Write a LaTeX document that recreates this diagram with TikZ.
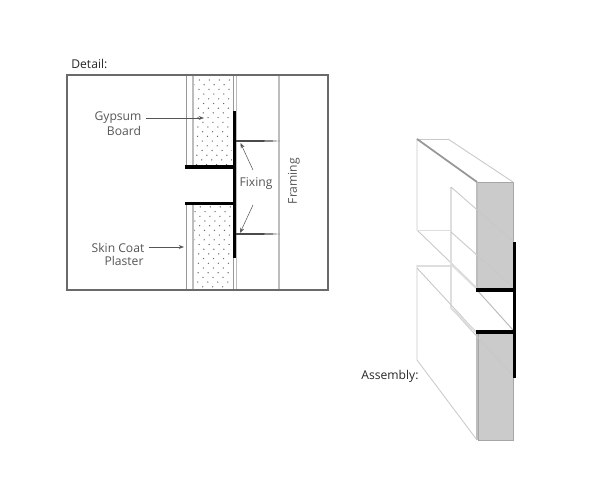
\documentclass[tikz,border=0pt]{standalone}
\usepackage{xcolor}
\usepackage{fontspec}
\setmainfont{Open Sans}
\usetikzlibrary{arrows.meta}
\definecolor{labelgray}{HTML}{555555}
\definecolor{boxgray}{HTML}{6A6A6A}
\definecolor{wallgray}{HTML}{BDBDBD}
\definecolor{edgegray}{HTML}{C8C8C8}
\definecolor{facegray}{HTML}{CBCBCB}
\tikzset{
    labeltext/.style={text=labelgray,font=\fontsize{6.9}{8}\selectfont,inner sep=0pt},
    titletext/.style={text=black!85,font=\fontsize{6.9}{8}\selectfont,inner sep=0pt},
    pointer/.style={draw=labelgray,line width=0.3pt,-{Stealth[length=3pt,width=2.2pt]}},
    trim/.style={line width=2.2pt,black},
    thintrim/.style={line width=1.9pt,black},
    thinwall/.style={line width=0.5pt,draw=boxgray!70},
    thickwall/.style={line width=1.1pt,draw=wallgray},
    isoline/.style={line width=0.5pt,draw=edgegray},
    hiddenline/.style={line width=1.1pt,draw=edgegray!60},
}
\begin{document}
\begin{tikzpicture}[x=0.02cm,y=-0.02cm]
    \useasboundingbox (0,0) rectangle (600,500);

    % Detail
    \node[titletext,anchor=west] (detailtitle) at (71,64) {Detail:};

    % Gypsum dots
    \begin{scope}
        \clip (194.5,76) rectangle (232,165) (194.5,206) rectangle (232,289);
        \foreach \r in {0,...,44} {
            \foreach \c in {-1,...,4} {
                \fill[boxgray] ({199.3+\c*10+5*mod(\r,2)-\r*0.15},{80+\r*4.7}) circle (0.42pt);
            }
        }
    \end{scope}

    % Walls
    \draw[thinwall] (186,76) -- (186,167);
    \draw[thinwall] (186,203) -- (186,289);
    \draw[thickwall] (193,76) -- (193,167);
    \draw[thickwall] (193,203) -- (193,289);
    \draw[thinwall] (233,76) -- (233,167);
    \draw[thinwall] (233,203) -- (233,289);
    \draw[thickwall] (236.5,76) -- (236.5,289);
    \draw[thickwall] (279,76) -- (279,289);

    % Fixings
    \fill[boxgray!70!black] (236,140) -- (270,140.3) -- (280,141) -- (270,141.7) -- (236,142) -- cycle;
    \fill[boxgray!70!black] (236,233) -- (270,233.3) -- (280,234) -- (270,234.7) -- (236,235) -- cycle;

    % Trim
    \draw[trim] (234.5,111) -- (234.5,258);
    \draw[trim] (185,167) -- (236,167);
    \draw[trim] (185,203.5) -- (236,203.5);

    % Frame
    \draw[boxgray,line width=1.1pt] (67,75) rectangle (328,290);

    % Labels
    \node[labeltext] (gypsum) at (118,118) {Gypsum};
    \node[labeltext] (board) at (124,131) {Board};
    \node[labeltext] (skincoat) at (118,248) {Skin Coat};
    \node[labeltext] (plaster) at (124,261) {Plaster};
    \node[labeltext] (fixing) at (256,184) {Fixing};
    \node[labeltext,rotate=90] (framing) at (294,181) {Framing};
    \coordinate (gypsumtip) at (204,118);
    \coordinate (skintip) at (184,247);
    \coordinate (uppertip) at (240.5,143);
    \coordinate (lowertip) at (240,233);
    \coordinate (upperstart) at (253,170);
    \coordinate (lowerstart) at (253,205);
    \draw[pointer] (gypsum.east |- gypsumtip) ++(4,0) -- (gypsumtip);
    \draw[pointer] (skincoat.east |- skintip) ++(4,0) -- (skintip);
    \draw[pointer] (upperstart) -- (uppertip);
    \draw[pointer] (lowerstart) -- (lowertip);

    % Assembly, gray end faces
    \fill[facegray] (478,182) rectangle (513,288);
    \fill[facegray] (478,333) rectangle (513,440);
    \draw[thickwall,line width=0.9pt] (477,182) -- (477,288);
    \draw[thickwall,line width=0.9pt] (477,333) -- (477,440);
    \draw[isoline,draw=boxgray!60] (478,182) -- (513,182) -- (513,288);
    \draw[isoline,draw=boxgray!60] (513,333) -- (513,440) -- (478,440) -- (478,333);

    % Upper board
    \draw[isoline] (448,139) -- (513,182);
    \draw[isoline] (417,139) -- (448,139);
    \draw[isoline] (417,139) -- (417,230) -- (477,288);
    \draw[line width=1pt,draw=boxgray!70] (417,139) -- (477,182);
    \draw[hiddenline] (417,230.5) -- (451,230.5);
    \draw[hiddenline] (451,187) -- (451,308);
    \draw[isoline] (451,187) -- (514,242);
    \draw[isoline] (451,232) -- (513,287);
    \draw[isoline,draw=boxgray!50] (477,290) -- (513,330);

    % Lower board
    \draw[isoline] (417,265) -- (417,360) -- (477,440);
    \draw[hiddenline] (417,266) -- (451,266);
    \draw[isoline] (417,268) -- (477,333);
    \draw[isoline] (451,308) -- (515,378);
    \draw[hiddenline] (452,265) -- (476,288);
    \draw[hiddenline] (451,308) -- (476,332);

    % Assembly trim
    \draw[thintrim] (514.5,242) -- (514.5,378);
    \draw[thintrim] (476,290) -- (515,290);
    \draw[thintrim] (476,332) -- (515,332);

    \node[titletext,anchor=west] (assemblytitle) at (361,376) {Assembly:};

\end{tikzpicture}
\end{document}
